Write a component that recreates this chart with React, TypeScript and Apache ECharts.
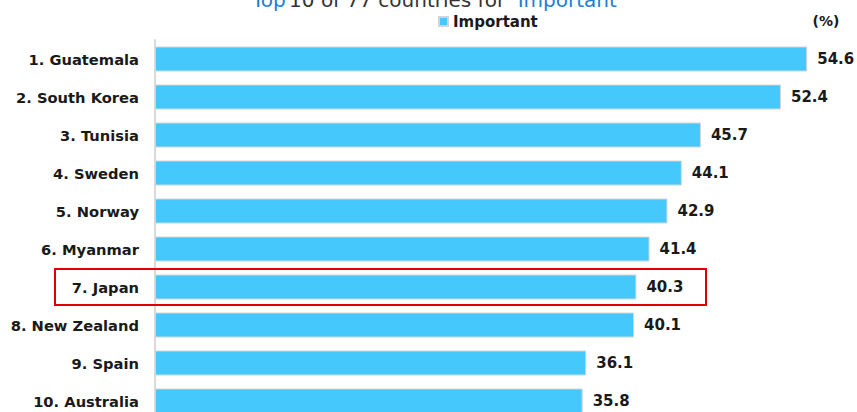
import React, { useEffect, useRef } from "react";
import * as echarts from "echarts";

const countries = [
  "1. Guatemala",
  "2. South Korea",
  "3. Tunisia",
  "4. Sweden",
  "5. Norway",
  "6. Myanmar",
  "7. Japan",
  "8. New Zealand",
  "9. Spain",
  "10. Australia",
];
const importantValues = [54.6, 52.4, 45.7, 44.1, 42.9, 41.4, 40.3, 40.1, 36.1, 35.8];
const highlightCountry = "7. Japan";
const seriesName = "Important";
const unitLabel = "(%)";

const FONT = "'DejaVu Sans', Verdana, sans-serif";

export default function App() {
  const ref = useRef<HTMLDivElement>(null);
  useEffect(() => {
    if (!ref.current) return;
    const chart = echarts.init(ref.current, undefined, { renderer: "svg" });
    const baseGraphic: any[] = [
      {
        type: "text",
        x: 439,
        y: 10,
        style: {
          text: "{b|Top} {k|10 of 77 countries for} {b|\"Important\"}",
          align: "center",
          verticalAlign: "bottom",
          rich: {
            b: { fill: "#1a7fd4", fontSize: 20, fontFamily: FONT },
            k: { fill: "#333333", fontSize: 20, fontFamily: FONT },
          },
        },
      },
      {
        type: "text",
        x: 826,
        y: 21,
        style: {
          text: unitLabel,
          align: "center",
          verticalAlign: "middle",
          fill: "#1a1a1a",
          fontSize: 14,
          fontWeight: "bold",
          fontFamily: FONT,
        },
      },
    ];
    chart.setOption({
      animation: false,
      legend: {
        data: [seriesName],
        left: 433,
        top: 9,
        itemWidth: 9,
        itemHeight: 9,
        itemGap: 4,
        icon: "rect",
        textStyle: { color: "#1a1a1a", fontSize: 15, fontWeight: "bold", fontFamily: FONT },
      },
      grid: { left: 155, right: 45, top: 40, bottom: 2, containLabel: false },
      xAxis: {
        type: "value",
        min: 0,
        max: 55,
        show: false,
        splitLine: { show: false },
      },
      yAxis: {
        type: "category",
        inverse: true,
        data: countries,
        axisLine: { show: true, lineStyle: { color: "#d9d9d9", width: 2 } },
        axisTick: { show: false },
        axisLabel: {
          margin: 16,
          color: "#1a1a1a",
          fontSize: 14.7,
          fontWeight: "bold",
          fontFamily: FONT,
        },
      },
      series: [
        {
          name: seriesName,
          type: "bar",
          data: importantValues,
          barWidth: 25,
          itemStyle: { color: "#45c9fd", borderColor: "#d4d4d4", borderWidth: 1 },
          label: {
            show: true,
            position: "right",
            distance: 10,
            color: "#1a1a1a",
            fontSize: 15,
            fontWeight: "bold",
            fontFamily: FONT,
            formatter: (p: any) => Number(p.value).toFixed(1),
          },
        },
      ],
      graphic: baseGraphic,
    });
    const yc = chart.convertToPixel({ yAxisIndex: 0 }, highlightCountry) as number;
    chart.setOption({
      graphic: [
        ...baseGraphic,
        {
          type: "rect",
          shape: { x: 55, y: yc - 18, width: 651, height: 36 },
          style: { fill: "none", stroke: "#e00000", lineWidth: 2 },
          z: 100,
        },
      ],
    });
    return () => chart.dispose();
  }, []);
  return (
    <div
      style={{
        position: "absolute",
        left: 0,
        top: 0,
        width: 857,
        height: 412,
        overflow: "hidden",
      }}
    >
      <div ref={ref} style={{ width: 857, height: 422 }} />
    </div>
  );
}
